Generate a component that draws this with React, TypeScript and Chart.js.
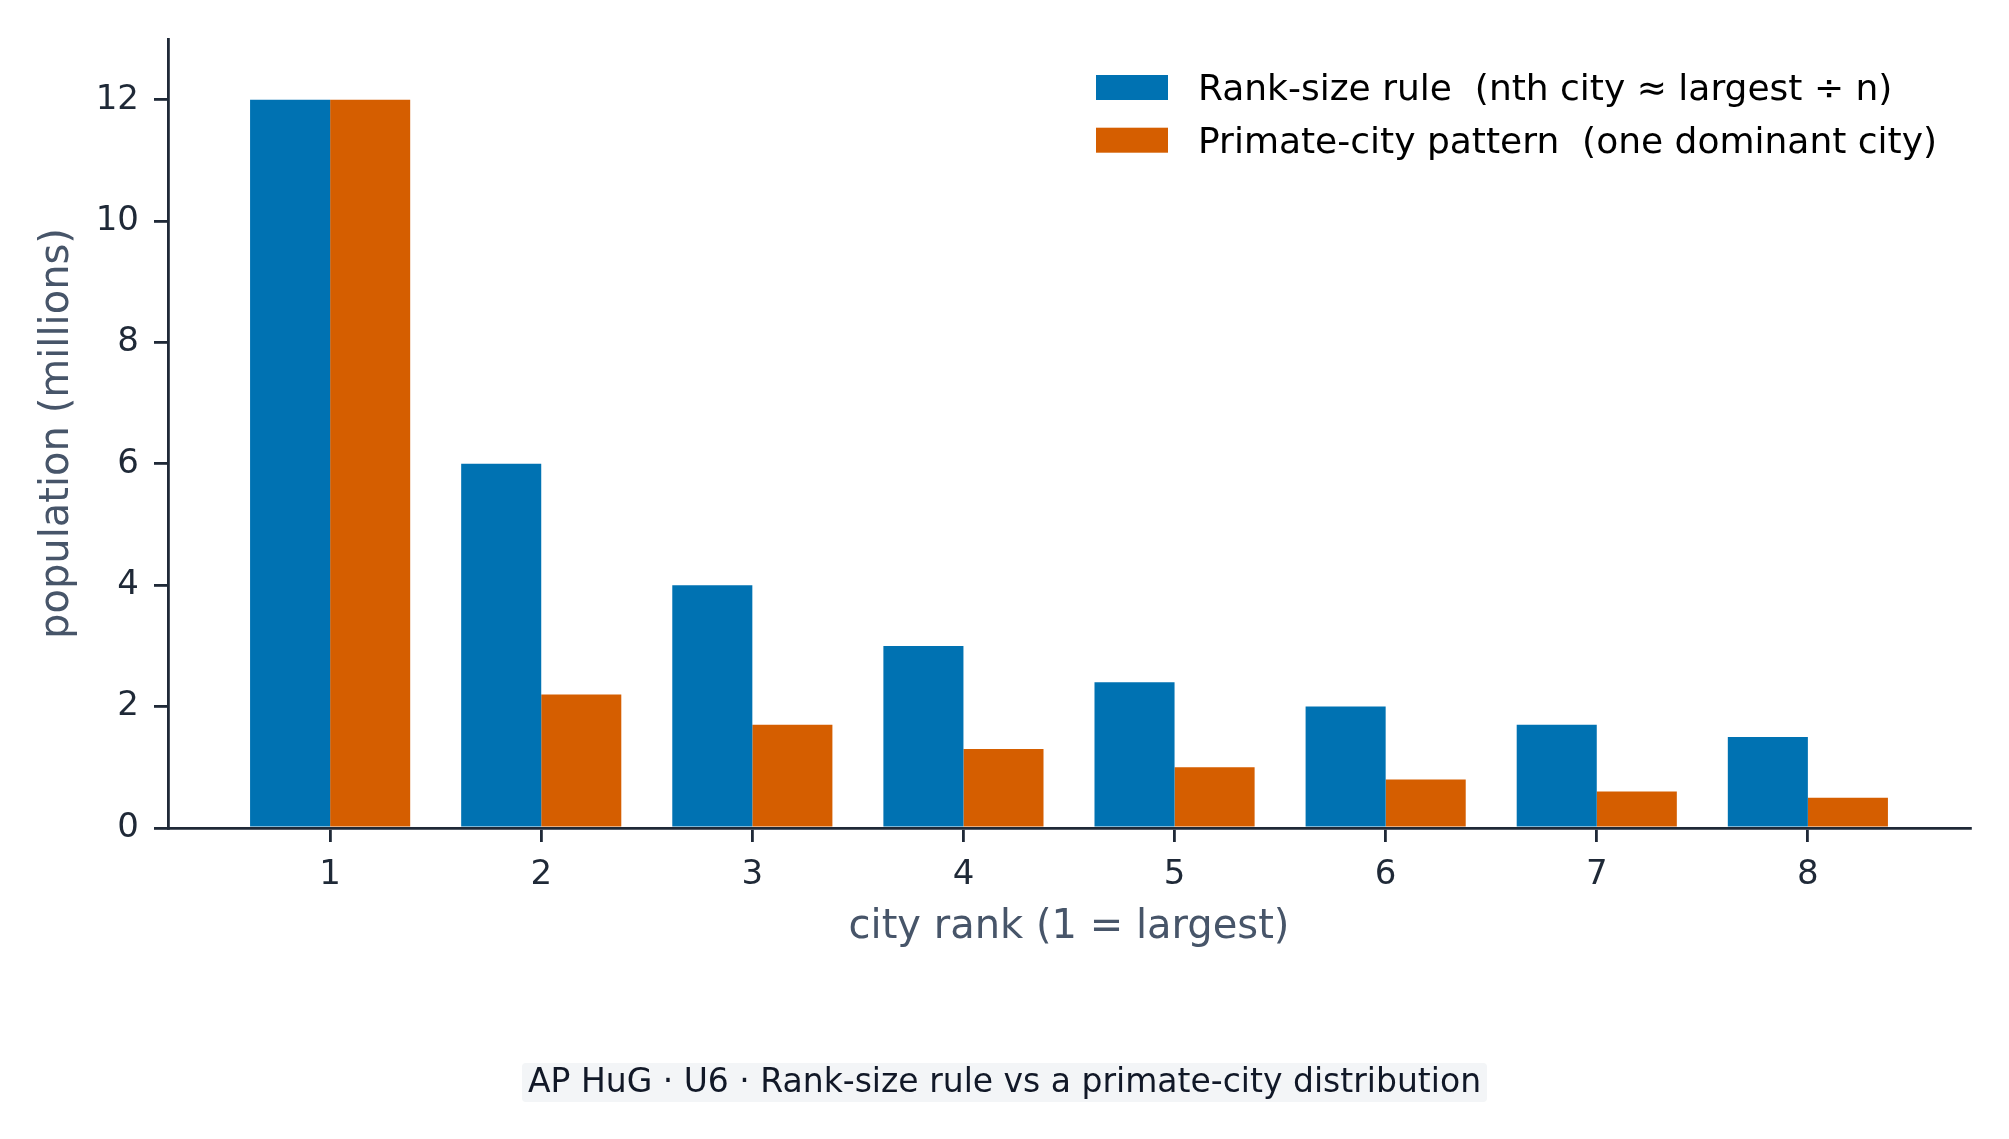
import { useEffect, useRef } from 'react'
import { Chart, registerables } from 'chart.js'

Chart.register(...registerables)
Chart.defaults.font.family = "'DejaVu Sans', sans-serif"

// data
const ranks = [1, 2, 3, 4, 5, 6, 7, 8]
const rankSizePop = [12, 6, 4, 3, 2.4, 2, 1.7, 1.5]
const primatePop = [12, 2.2, 1.7, 1.3, 1.0, 0.8, 0.6, 0.5]
const yTicks = [0, 2, 4, 6, 8, 10, 12]
const seriesLabels = ['Rank-size rule  (nth city ≈ largest ÷ n)', 'Primate-city pattern  (one dominant city)']
const seriesColors = ['#0072B2', '#D55E00']
const xTitle = 'city rank (1 = largest)'
const yTitle = 'population (millions)'
const caption = 'AP HuG · U6 · Rank-size rule vs a primate-city distribution'

const W = 2009
const H = 1139
const AXIS = '#1f2937'

const cornerLegend = {
  id: 'cornerLegend',
  afterDraw(chart: Chart) {
    const { ctx, chartArea } = chart
    ctx.save()
    ctx.font = "36px 'DejaVu Sans'"
    ctx.textAlign = 'left'
    ctx.textBaseline = 'alphabetic'
    chart.data.datasets.forEach((ds: any, i: number) => {
      const left = chartArea.right - 874
      const top = chartArea.top + 36 + i * 52.7
      ctx.fillStyle = ds.backgroundColor
      ctx.fillRect(left, top, 72, 25)
      ctx.fillStyle = '#000'
      ctx.fillText(ds.label, left + 102, top + 25)
    })
    ctx.restore()
  },
}

const captionPlugin = {
  id: 'caption',
  afterDraw(chart: Chart) {
    const { ctx, width } = chart
    ctx.save()
    ctx.font = "33px 'DejaVu Sans'"
    const tw = ctx.measureText(caption).width
    const x = width / 2 - tw / 2
    ctx.fillStyle = '#f3f5f7'
    ctx.beginPath()
    ctx.roundRect(x - 6, 1063, tw + 12, 39, 4)
    ctx.fill()
    ctx.fillStyle = '#111827'
    ctx.textAlign = 'left'
    ctx.textBaseline = 'alphabetic'
    ctx.fillText(caption, x, 1091.7)
    ctx.restore()
  },
}

export default function App() {
  const canvasRef = useRef<HTMLCanvasElement>(null)
  const chartRef = useRef<Chart | null>(null)

  useEffect(() => {
    document.body.style.margin = '0'
    if (!canvasRef.current) return
    if (chartRef.current) chartRef.current.destroy()

    const series = [rankSizePop, primatePop]

    chartRef.current = new Chart(canvasRef.current, {
      type: 'bar',
      data: {
        datasets: series.map((vals, i) => ({
          label: seriesLabels[i],
          data: vals.map((y, j) => ({ x: ranks[j], y })),
          backgroundColor: seriesColors[i],
          borderWidth: 0,
          categoryPercentage: 0.7585,
          barPercentage: 1,
        })),
      },
      options: {
        animation: false,
        responsive: false,
        devicePixelRatio: 1,
        layout: { padding: { left: 0, top: 39, right: 39, bottom: 187 } },
        plugins: { legend: { display: false }, tooltip: { enabled: false } },
        scales: {
          x: {
            type: 'linear',
            min: 0.232,
            max: 8.768,
            offset: false,
            afterBuildTicks: (axis: any) => { axis.ticks = ranks.map((v) => ({ value: v })) },
            afterFit: (axis: any) => { axis.height = 124 },
            grid: { offset: false, drawOnChartArea: false, drawTicks: true, tickLength: 14, color: AXIS, lineWidth: 2.8 },
            border: { display: true, color: AXIS, width: 2.8 },
            ticks: { color: AXIS, font: { size: 34 }, padding: 12.5, callback: (v: any) => String(v) },
            title: { display: true, text: xTitle, color: '#475569', font: { size: 40 }, padding: { top: 0, bottom: 0 } },
          },
          y: {
            min: 0,
            max: 13,
            afterBuildTicks: (axis: any) => { axis.ticks = yTicks.map((v) => ({ value: v })) },
            afterFit: (axis: any) => { axis.width = 168 },
            grid: { drawOnChartArea: false, drawTicks: true, tickLength: 14, color: AXIS, lineWidth: 2.8 },
            border: { display: true, color: AXIS, width: 2.8 },
            ticks: { color: AXIS, font: { size: 34 }, padding: 15, callback: (v: any) => String(v) },
            title: { display: true, text: yTitle, color: '#475569', font: { size: 40 }, padding: { top: 34, bottom: 0 } },
          },
        },
      },
      plugins: [cornerLegend, captionPlugin],
    })

    return () => { chartRef.current?.destroy() }
  }, [])

  return (
    <div style={{ width: W, height: H, background: '#fff' }}>
      <canvas ref={canvasRef} width={W} height={H} style={{ display: 'block' }} />
    </div>
  )
}
